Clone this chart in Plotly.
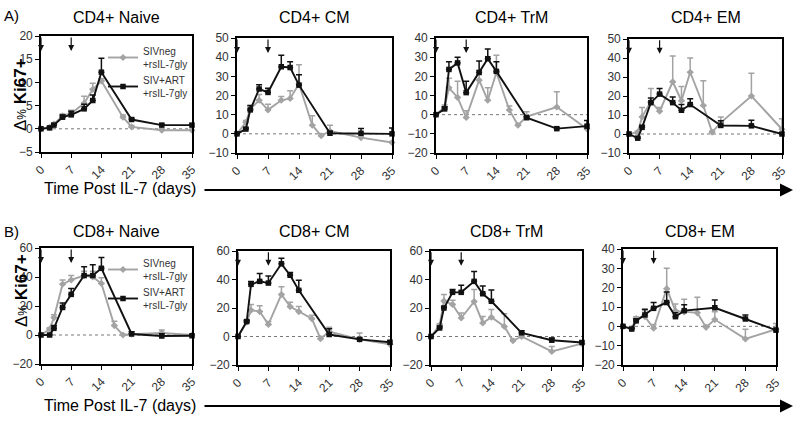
import plotly.graph_objects as go

DAYS_GRAY = [0, 2, 3, 5, 7, 10, 12, 14, 17, 19, 21, 28, 35]
DAYS_BLACK = [0, 2, 3, 5, 7, 10, 12, 14, 21, 28, 35]
TICKS_X = [0, 7, 14, 21, 28, 35]
ARROW_DAYS = [0, 7]

PANEL_TITLES = ["CD4+ Naive", "CD4+ CM", "CD4+ TrM", "CD4+ EM",
                "CD8+ Naive", "CD8+ CM", "CD8+ TrM", "CD8+ EM"]
SERIES_NAMES = ["SIVneg<br>+rsIL-7gly", "SIV+ART<br>+rsIL-7gly"]

# CD4+ Naive
cd4_naive_gray = [0, 0.3, 1.0, 2.8, 3.3, 5.5, 8.5, 10.3, None, 2.5, 0.4, -0.3, -0.3]
cd4_naive_gray_err = [0, 0.2, 0.3, 0.4, 0.7, 1.5, 1.3, 0.5, None, 0.5, 0.3, 0.3, 0.2]
cd4_naive_black = [0, 0.2, 0.8, 2.5, 3.0, 4.3, 6.1, 12.2, 2.0, 0.8, 0.8]
cd4_naive_black_err = [0, 0.2, 0.3, 0.5, 0.8, 1.0, 1.2, 3.0, 0.3, 0.2, 0.2]
# CD4+ CM
cd4_cm_gray = [0, 6, 13, 17.5, 12.5, 17.5, 18.5, 26, 4.5, -1, 1.5, -2, -4.5]
cd4_cm_gray_err = [0, 1, 2, 3, 3, 2, 4, 10, 5, 1, 3, 0.5, 0.5]
cd4_cm_black = [0, 2.5, 12.5, 23.4, 21.6, 35, 34.6, 25.4, 0.3, 0.3, 0]
cd4_cm_black_err = [0, 0.5, 2.2, 2.2, 2.2, 6, 3, 5.4, 1, 2.5, 3]
# CD4+ TrM
cd4_trm_gray = [0, 4, 14, 9, -1.5, 18, 7.5, 22, 2.5, -5.5, -1, 4, -7.5]
cd4_trm_gray_err = [0, 1, 5, 8.5, 3.5, 5, 6.5, 9, 2, 0.5, 2.5, 8, 1.5]
cd4_trm_black = [0, 3, 23.6, 27, 11.5, 22, 29.2, 22.6, -1.6, -7.3, -6]
cd4_trm_black_err = [0, 1, 4, 3, 6, 6, 5, 5, 0.5, 0.5, 3]
# CD4+ EM
cd4_em_gray = [0, 1, 9, 17, 12, 27.5, 17.5, 32.5, 15, 1, 6, 20, 2.5]
cd4_em_gray_err = [0, 0.5, 5, 7, 2, 13.5, 7.5, 7.5, 13, 0.5, 3, 12, 5.5]
cd4_em_black = [0, -2.2, 3.5, 16.5, 21, 16.5, 12.5, 15.5, 4.5, 4.3, 0]
cd4_em_black_err = [0, 0.5, 1, 2.5, 3, 3, 3, 3, 2.5, 3, 0.5]
# CD8+ Naive
cd8_naive_gray = [0, 4, 12, 35, 38, 41, 40, 35.5, 6.5, 0, 0.5, 1.5, 0]
cd8_naive_gray_err = [0, 1, 2, 3, 3, 3, 4, 4, 3, 0.5, 0.5, 2, 0.5]
cd8_naive_black = [0, 0, 4.6, 19, 28, 41, 41, 46, 0.7, -0.7, -0.5]
cd8_naive_black_err = [0, 0.3, 2, 3, 4, 6, 7.5, 7.5, 1.5, 1.5, 0.5]
# CD8+ CM
cd8_cm_gray = [0, 10, 18.5, 17.5, 8.5, 29.5, 21, 17.5, 12.5, -1.5, 3.5, -2, -5.5]
cd8_cm_gray_err = [0, 1, 4, 4, 2, 5.5, 3, 3.5, 2.5, 1.5, 3, 4.5, 1]
cd8_cm_black = [0, 10.5, 36.6, 38.7, 37.5, 51, 43, 32.4, 1.4, -2, -4]
cd8_cm_black_err = [0, 1, 2, 5.5, 5, 4, 2, 7, 4, 1, 1]
# CD8+ TrM
cd8_trm_gray = [0, 8, 25, 22.5, 13, 24.5, 9.5, 13.5, 7, -3, 0, -10.5, -5]
cd8_trm_gray_err = [0, 1, 4.5, 3, 3.5, 8.5, 4.5, 5.5, 9, 1, 1, 3.5, 1]
cd8_trm_black = [0, 6, 20, 31, 31, 38.7, 30, 24.7, 2.6, -2.6, -4.2]
cd8_trm_black_err = [0, 1, 1, 2, 5, 7, 5.5, 8, 1.5, 1.5, 1]
# CD8+ EM
cd8_em_gray = [0, -1, 4, 5, -1, 19.5, 8, 7.5, 7, -0.5, 3.5, -6.5, -1.5]
cd8_em_gray_err = [0, 0.5, 1, 3, 2, 10.5, 3.5, 6.5, 8, 1, 4, 5, 3]
cd8_em_black = [0, -1.4, 2.8, 5.9, 9.3, 12.3, 5, 8.1, 9.6, 3.8, -2]
cd8_em_black_err = [0, 0.5, 1, 3, 3, 5.5, 2, 3, 4, 2, 1]

Y_RANGES = [[-5, 20], [-10, 50], [-20, 40], [-10, 50],
            [-20, 60], [-20, 60], [-20, 60], [-20, 40]]
Y_DTICKS = [5, 10, 10, 10, 20, 20, 20, 10]

GRAY_DATA = [(cd4_naive_gray, cd4_naive_gray_err), (cd4_cm_gray, cd4_cm_gray_err),
             (cd4_trm_gray, cd4_trm_gray_err), (cd4_em_gray, cd4_em_gray_err),
             (cd8_naive_gray, cd8_naive_gray_err), (cd8_cm_gray, cd8_cm_gray_err),
             (cd8_trm_gray, cd8_trm_gray_err), (cd8_em_gray, cd8_em_gray_err)]
BLACK_DATA = [(cd4_naive_black, cd4_naive_black_err), (cd4_cm_black, cd4_cm_black_err),
              (cd4_trm_black, cd4_trm_black_err), (cd4_em_black, cd4_em_black_err),
              (cd8_naive_black, cd8_naive_black_err), (cd8_cm_black, cd8_cm_black_err),
              (cd8_trm_black, cd8_trm_black_err), (cd8_em_black, cd8_em_black_err)]

W, H = 800, 421
# panel pixel boxes (left, right, top, bottom)
BOXES = [(41, 192, 36, 152), (237, 392, 38, 153), (436, 587, 38, 153), (629, 782, 39, 153),
         (41, 192, 248, 364), (238, 390, 251, 365), (431, 582, 251, 365), (623, 776, 249, 365)]

FONT = "Liberation Sans, Arial, sans-serif"
GRAY = "#a3a3a3"
BLACK = "#111111"

fig = go.Figure()
layout = dict(width=W, height=H, autosize=False, margin=dict(l=0, r=0, t=0, b=0, autoexpand=False),
              paper_bgcolor="white", plot_bgcolor="white",
              font=dict(family=FONT, color="#222222"))
annotations = []
shapes = []


def txt(xpx, ypx, text, size, angle=0, xanchor="center", yanchor="middle", color="black"):
    return dict(x=xpx / W, y=1 - ypx / H, xref="paper", yref="paper", text=text,
                showarrow=False, textangle=angle, xanchor=xanchor, yanchor=yanchor,
                font=dict(size=size, color=color))


for i in range(8):
    k = "" if i == 0 else str(i + 1)
    xa, ya = "x" + k, "y" + k
    l, r, t, b = BOXES[i]
    leg = "legend" if i == 0 else ("legend2" if i == 4 else None)
    for (vals, errs), days, color, sym, name in [
            (GRAY_DATA[i], DAYS_GRAY, GRAY, "diamond", SERIES_NAMES[0]),
            (BLACK_DATA[i], DAYS_BLACK, BLACK, "square", SERIES_NAMES[1])]:
        tr = dict(x=days, y=vals, mode="lines+markers", name=name,
                  xaxis=xa, yaxis=ya, connectgaps=True, cliponaxis=False,
                  line=dict(color=color, width=1.9),
                  marker=dict(color=color, symbol=sym, size=5.5),
                  error_y=dict(type="data", symmetric=False, array=errs,
                               arrayminus=[0] * len(errs), color=color,
                               thickness=1.5, width=3),
                  showlegend=leg is not None)
        if leg:
            tr["legend"] = leg
        fig.add_trace(go.Scatter(**tr))
    common = dict(showgrid=False, zeroline=False, showline=True, mirror=True,
                  linecolor="black", linewidth=1.6, ticks="outside", ticklen=4,
                  tickwidth=1.4, tickcolor="black", automargin=False,
                  tickfont=dict(size=12, color="#333333"))
    layout["xaxis" + k] = dict(domain=[l / W, r / W], anchor=ya, range=[0, 35],
                               tickvals=TICKS_X, tickangle=-45, **common)
    layout["yaxis" + k] = dict(domain=[1 - b / H, 1 - t / H], anchor=xa,
                               range=Y_RANGES[i], dtick=Y_DTICKS[i], **common)
    shapes.append(dict(type="line", xref=xa + " domain", yref=ya, x0=0, x1=1, y0=0, y1=0,
                       line=dict(color="#777777", width=1, dash="dot"), layer="below"))
    for d in ARROW_DAYS:
        annotations.append(dict(x=d, y=0.87, xref=xa, yref=ya + " domain", text="",
                                showarrow=True, ax=0, ay=-15, arrowhead=2,
                                arrowsize=1, arrowwidth=1.2, arrowcolor=BLACK))
    annotations.append(txt((l + r) / 2, 17 if i < 4 else 232, PANEL_TITLES[i], 16))

annotations.append(txt(2, 15, "A)", 15, xanchor="left"))
annotations.append(txt(2, 232, "B)", 15, xanchor="left"))

for ypx in [95, 291]:
    annotations.append(txt(21, ypx, "Δ<span style='font-size:12px'>%</span> <b>Ki67+</b>",
                           17, angle=-90))

for ypx in [189, 405]:
    annotations.append(txt(120, ypx, "Time Post IL-7 (days)", 16))
    annotations.append(dict(x=793 / W, y=1 - (ypx + 1) / H, xref="paper", yref="paper",
                            text="", showarrow=True, ax=-590, ay=0, arrowhead=2,
                            arrowsize=1.3, arrowwidth=2, arrowcolor="black"))

legend_style = dict(bgcolor="rgba(0,0,0,0)", font=dict(size=10, color="#333333"),
                    itemwidth=30, xanchor="left", yanchor="top", tracegroupgap=3)
layout["legend"] = dict(x=103 / W, y=1 - 38 / H, **legend_style)
layout["legend2"] = dict(x=103 / W, y=1 - 250 / H, **legend_style)
layout["annotations"] = annotations
layout["shapes"] = shapes
fig.update_layout(**layout)

fig.write_html("out.html", config={"displayModeBar": False},
               post_script="document.body.style.margin='0px';document.body.style.overflow='hidden';")
